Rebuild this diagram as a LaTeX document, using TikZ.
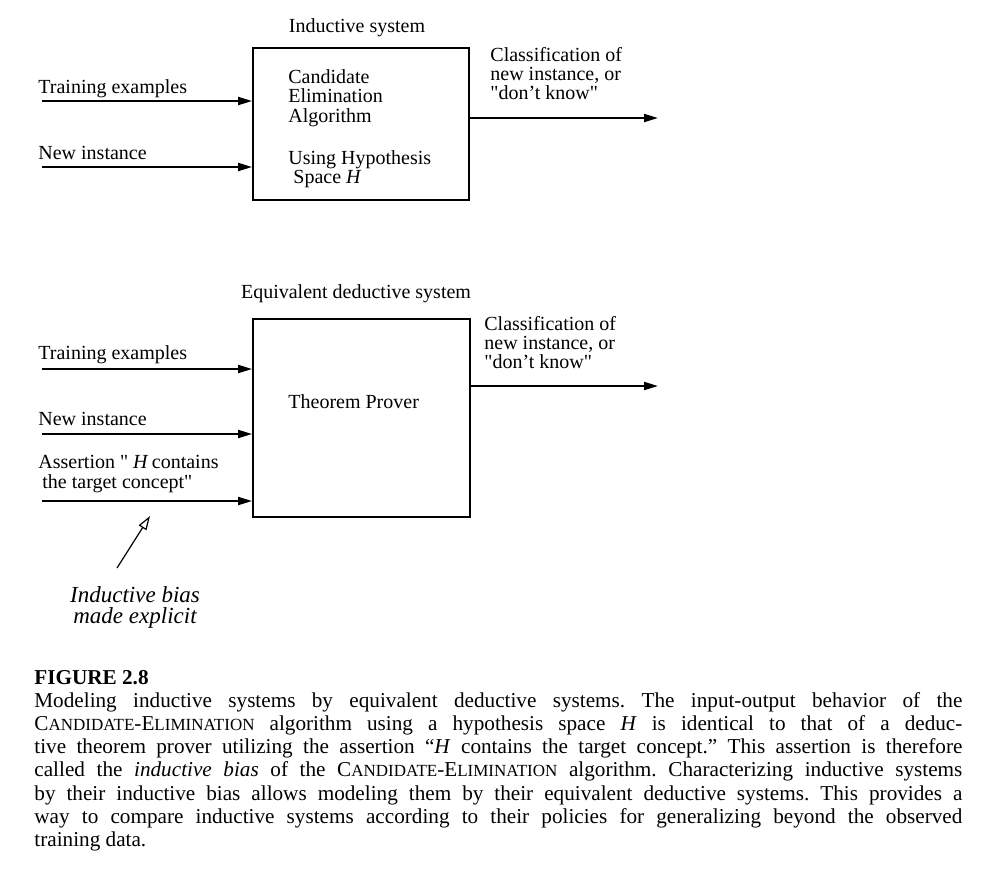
\documentclass[tikz,border=0pt]{standalone}
\usepackage{fontspec}
\setmainfont{Liberation Serif}[Ligatures=TeXOff]
\usetikzlibrary{positioning,arrows.meta}
\newcommand{\candelim}{C{\fontsize{8.5}{10}\selectfont ANDIDATE}-E{\fontsize{8.5}{10}\selectfont LIMINATION}}

\begin{document}
\begin{tikzpicture}[x=0.5pt,y=-0.5pt]
  \tikzset{sysbox/.style={draw,line width=0.9pt},
           lbl/.style={anchor=base west,inner sep=0pt,align=left,font=\fontsize{10}{9.75}\selectfont},
           ttl/.style={anchor=base,inner sep=0pt,font=\fontsize{10}{12}\selectfont},
           feed/.style={line width=1pt,-{Triangle[length=7pt,width=4pt]}},
           biasarrow/.style={line width=0.6pt,-{Triangle[open,length=7pt,width=4.5pt]}}}
  \useasboundingbox (0,0) rectangle (999,885);
  % inductive system (multi-line labels sit on their last baseline)
  \node[sysbox,minimum width=108pt,minimum height=76pt] (ind) at (361,124) {};
  \node[ttl] (indtitle) at (357,32) {Inductive system};
  \node[lbl] (indalg) at (288,122) {Candidate\\Elimination\\Algorithm};
  \node[lbl,font=\fontsize{10}{9.25}\selectfont] (indhyp) at (288,183) {Using Hypothesis\\\hspace*{2.5pt}Space \textit{H}};
  \node[lbl] (indtrain) at (38,93) {Training examples};
  \node[lbl] (indnew) at (38,159) {New instance};
  \node[lbl,font=\fontsize{10}{9.5}\selectfont] (indout) at (490,99) {Classification of\\new instance, or\\"don’t know"};
  \coordinate (indtrainin) at (42,101);
  \coordinate (indnewin) at (42,167);
  \coordinate (indend) at (658,118);
  \draw[feed] (indtrainin) -- (indtrainin -| ind.west);
  \draw[feed] (indnewin) -- (indnewin -| ind.west);
  \draw[feed] (ind.east |- indend) -- (indend);
  % equivalent deductive system
  \node[sysbox,minimum width=108.5pt,minimum height=99pt] (ded) at (361.5,418) {};
  \node[ttl] (dedtitle) at (356,298) {Equivalent deductive system};
  \node[lbl] (dedprover) at (288,408) {Theorem Prover};
  \node[lbl] (dedtrain) at (38,359) {Training examples};
  \node[lbl] (dednew) at (38,425) {New instance};
  \node[lbl,font=\fontsize{10}{10}\selectfont] (dedassert) at (38,488) {Assertion " \textit{H}\,contains\\\hspace*{2pt}the target concept"};
  \node[lbl,font=\fontsize{10}{9.5}\selectfont] (dedout) at (484,368) {Classification of\\new instance, or\\"don’t know"};
  \coordinate (dedtrainin) at (42,369);
  \coordinate (dednewin) at (42,434);
  \coordinate (dedassertin) at (42,501);
  \coordinate (dedend) at (658,386);
  \draw[feed] (dedtrainin) -- (dedtrainin -| ded.west);
  \draw[feed] (dednewin) -- (dednewin -| ded.west);
  \draw[feed] (dedassertin) -- (dedassertin -| ded.west);
  \draw[feed] (ded.east |- dedend) -- (dedend);
  % inductive bias
  \node[anchor=base,inner sep=0pt,align=center,font=\fontsize{11.5}{10.5}\selectfont\itshape] (bias) at (135,623) {Inductive bias\\made explicit};
  \coordinate (biastail) at (117,568);
  \coordinate (biastip) at (150,516);
  \draw[biasarrow] (biastail) -- (biastip);
  % caption (text width: base is the first line)
  \node[anchor=base west,inner sep=0pt,font=\fontsize{10.6}{12}\selectfont\bfseries] (fignum) at (34,684) {FIGURE 2.8};
  \node[anchor=base west,inner sep=0pt,text width=464pt,align=justify,
        font=\fontsize{10.6}{11.65}\selectfont] (caption) at (34,707)
    {\frenchspacing\hyphenpenalty=10000 \exhyphenpenalty=10000 \tolerance=10000
     Modeling inductive systems by equivalent deductive systems. The input-output behavior of the\linebreak
     \candelim{} algorithm using a hypothesis space \textit{H} is identical to that of a deduc-\linebreak
     tive theorem prover utilizing the assertion “\textit{H} contains the target concept.” This assertion is therefore\linebreak
     called the \textit{inductive bias} of the \candelim{} algorithm. Characterizing inductive systems\linebreak
     by their inductive bias allows modeling them by their equivalent deductive systems. This provides a\linebreak
     way to compare inductive systems according to their policies for generalizing beyond the observed\linebreak
     training data.};
\end{tikzpicture}
\end{document}
